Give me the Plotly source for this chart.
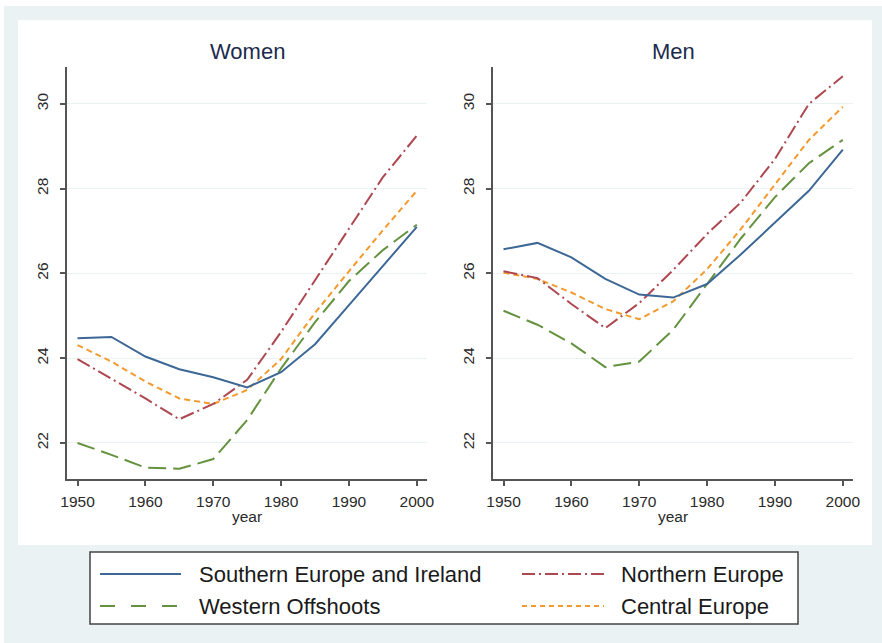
import plotly.graph_objects as go
from plotly.subplots import make_subplots

# ---------------------------------------------------------------------------
# data (mean age at first marriage, by region)
YEARS = [1950, 1955, 1960, 1965, 1970, 1975, 1980, 1985, 1990, 1995, 2000]

REGIONS = ["Southern Europe and Ireland", "Northern Europe",
           "Western Offshoots", "Central Europe"]

WOMEN_SOUTHERN = [24.47, 24.50, 24.04, 23.74, 23.55, 23.31, 23.67, 24.33, 25.25, 26.18, 27.10]
WOMEN_NORTHERN = [23.98, 23.52, 23.05, 22.56, 22.92, 23.49, 24.62, 25.84, 27.05, 28.27, 29.25]
WOMEN_WESTERN  = [22.00, 21.72, 21.42, 21.39, 21.62, 22.54, 23.76, 24.85, 25.82, 26.55, 27.15]
WOMEN_CENTRAL  = [24.31, 23.92, 23.45, 23.05, 22.92, 23.25, 23.98, 25.07, 26.05, 27.02, 27.95]

MEN_SOUTHERN = [26.57, 26.72, 26.38, 25.87, 25.50, 25.43, 25.75, 26.45, 27.20, 27.95, 28.92]
MEN_NORTHERN = [26.05, 25.89, 25.28, 24.71, 25.30, 26.08, 26.93, 27.68, 28.70, 30.00, 30.65]
MEN_WESTERN  = [25.12, 24.79, 24.35, 23.79, 23.92, 24.67, 25.75, 26.83, 27.80, 28.60, 29.15]
MEN_CENTRAL  = [26.02, 25.87, 25.55, 25.16, 24.92, 25.34, 26.10, 27.05, 28.10, 29.15, 29.93]

PANELS = ["Women", "Men"]
X_TICKS = [1950, 1960, 1970, 1980, 1990, 2000]
Y_TICKS = [22, 24, 26, 28, 30]
# ---------------------------------------------------------------------------

W, H = 882, 643
ML, MR, MT, MB = 67, 29, 67, 164          # plot block in pixels
PW, PH = W - ML - MR, H - MT - MB

FONT = "Liberation Sans, Arial, sans-serif"
BG = "#eaf2f3"
AXIS = "#555555"
TITLE_C = "#1c2b4d"

STYLES = {
    # region: (colour, plot dash, legend dash)
    "Southern Europe and Ireland": ("#3d6896", "solid", "solid"),
    "Northern Europe":             ("#ad4750", "14px,4px,2px,4px", "13px,4px,2px,4px"),
    "Western Offshoots":           ("#64923f", "18px,7px", "15px,16px"),
    "Central Europe":              ("#f29a2e", "6px,4px", "5px,4px"),
}


def px_x(p):
    return (p - ML) / PW


def px_y(p):
    return (H - MB - p) / PH


data = {
    "Women": [WOMEN_SOUTHERN, WOMEN_NORTHERN, WOMEN_WESTERN, WOMEN_CENTRAL],
    "Men":   [MEN_SOUTHERN, MEN_NORTHERN, MEN_WESTERN, MEN_CENTRAL],
}

fig = make_subplots(rows=1, cols=2)

# draw order: western, central, northern, southern on top
order = [2, 3, 1, 0]
for ci, panel in enumerate(PANELS, start=1):
    for k in order:
        name = REGIONS[k]
        colour, dash, _ = STYLES[name]
        fig.add_trace(go.Scatter(
            x=YEARS, y=data[panel][k], mode="lines", name=name,
            line=dict(color=colour, width=2, dash=dash),
            showlegend=False,
        ), row=1, col=ci)

axis_common = dict(
    showline=True, linecolor=AXIS, linewidth=1.5,
    ticks="outside", ticklen=5, tickwidth=1.5, tickcolor=AXIS,
    tickfont=dict(family=FONT, size=15.5, color="#2a2a2a"),
    zeroline=False,
)
domains = [(px_x(67), px_x(427)), (px_x(493), px_x(853))]
for ci in (1, 2):
    fig.update_xaxes(
        range=[1948.45, 2001.5], domain=domains[ci - 1],
        tickvals=X_TICKS, showgrid=False, ticklabelstandoff=3,
        title=dict(text="year", font=dict(family=FONT, size=15.5, color="#2a2a2a"),
                   standoff=2),
        **axis_common, row=1, col=ci)
    fig.update_yaxes(
        range=[21.15, 30.87], tickvals=Y_TICKS, tickangle=-90,
        showgrid=True, gridcolor=BG, gridwidth=1, ticklabelstandoff=6,
        **axis_common, row=1, col=ci)

shapes = [
    # outer light frame and white graph region
    dict(type="rect", xref="paper", yref="paper", layer="below",
         x0=px_x(4), x1=px_x(W), y0=px_y(H), y1=px_y(6),
         fillcolor=BG, line=dict(width=0)),
    dict(type="rect", xref="paper", yref="paper", layer="below",
         x0=px_x(18), x1=px_x(872), y0=px_y(545), y1=px_y(20),
         fillcolor="white", line=dict(width=0)),
    # legend box
    dict(type="rect", xref="paper", yref="paper", layer="below",
         x0=px_x(90), x1=px_x(798), y0=px_y(624), y1=px_y(552),
         fillcolor="white", line=dict(color="#444444", width=1.5)),
]

annotations = []
for ci, panel in enumerate(PANELS):
    d0, d1 = domains[ci]
    annotations.append(dict(
        text=panel, xref="paper", yref="paper", x=(d0 + d1) / 2, y=px_y(52),
        xanchor="center", yanchor="middle", showarrow=False,
        font=dict(family=FONT, size=22, color=TITLE_C)))

# legend: two columns, two rows
legend_slots = {
    "Southern Europe and Ireland": (100, 181, 197, 574),
    "Northern Europe":             (522, 604, 619, 574),
    "Western Offshoots":           (100, 181, 197, 606),
    "Central Europe":              (522, 604, 619, 606),
}
for name in REGIONS:
    colour, _, ldash = STYLES[name]
    lx0, lx1, tx, ly = legend_slots[name]
    shapes.append(dict(
        type="line", xref="paper", yref="paper", layer="above",
        x0=px_x(lx0), x1=px_x(lx1), y0=px_y(ly), y1=px_y(ly),
        line=dict(color=colour, width=2, dash=ldash)))
    annotations.append(dict(
        text=name, xref="paper", yref="paper", x=px_x(tx), y=px_y(ly),
        xanchor="left", yanchor="middle", showarrow=False,
        font=dict(family=FONT, size=22, color="#1a1a1a")))

fig.update_layout(
    width=W, height=H,
    margin=dict(l=ML, r=MR, t=MT, b=MB),
    paper_bgcolor="white", plot_bgcolor="rgba(0,0,0,0)",
    shapes=shapes, annotations=annotations,
    showlegend=False,
)

# the page's default body margin would push the figure 8px down and right
fig.write_html("out.html", config={"displayModeBar": False}, post_script=(
    "document.body.style.margin='0';"
    "document.body.style.overflow='hidden';"))
